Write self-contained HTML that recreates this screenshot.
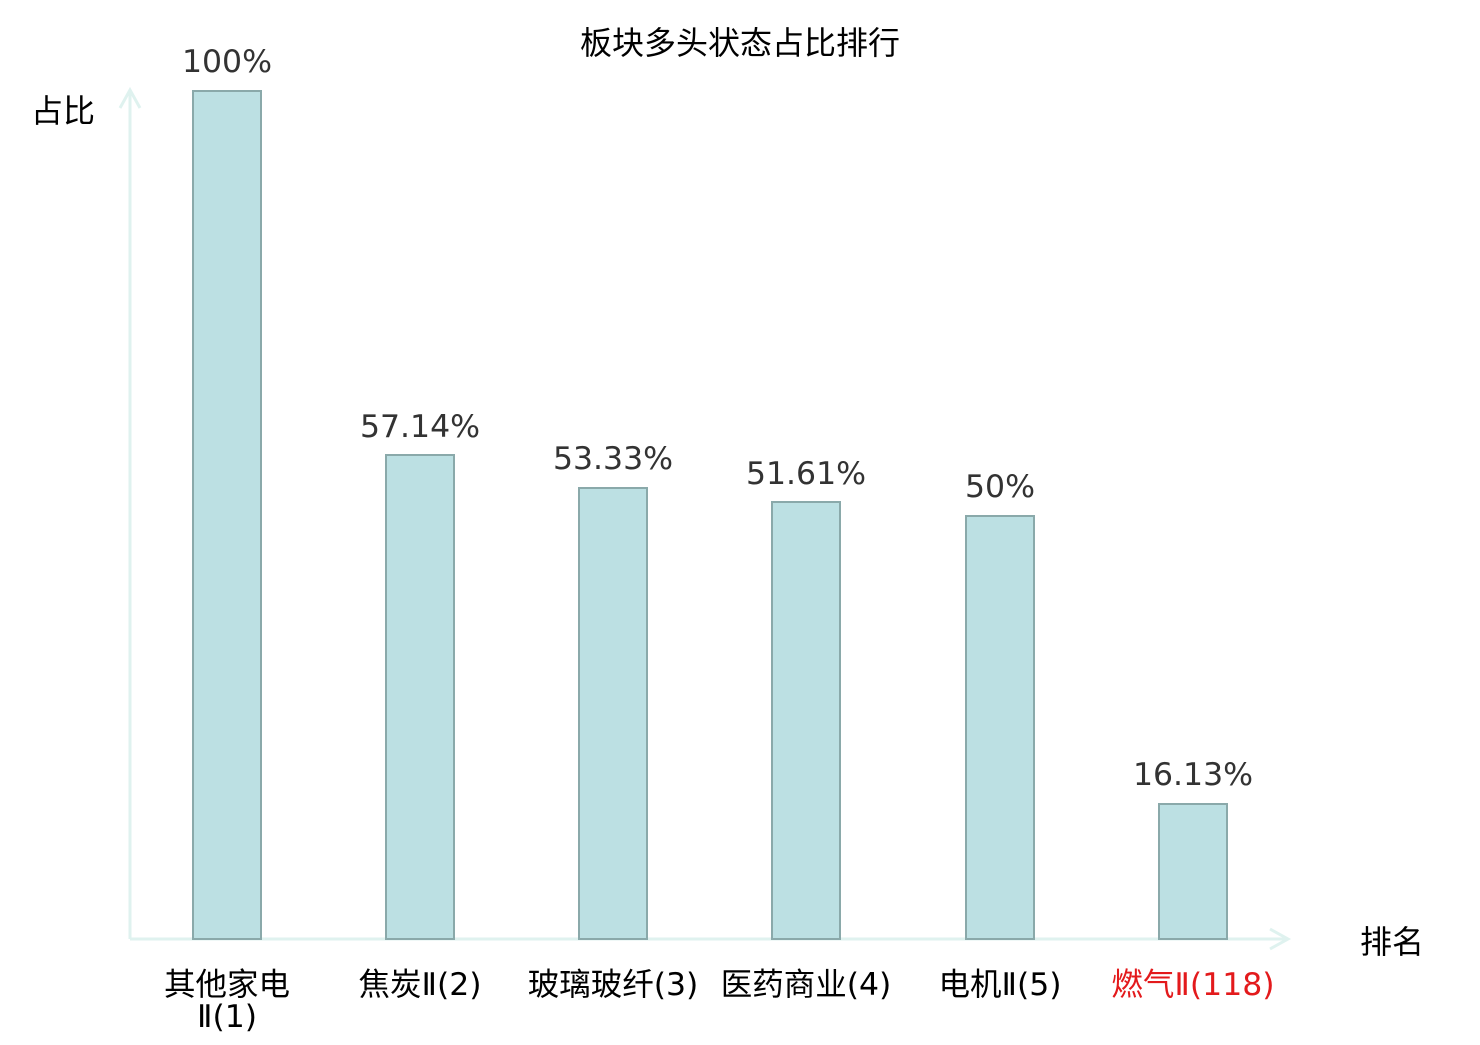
<!DOCTYPE html><html><head><meta charset="utf-8"><style>body{margin:0;background:#fff}svg text{font-family:"DejaVu Sans","Liberation Sans","Noto Sans CJK SC",sans-serif}</style></head><body>
<svg width="1480" height="1040" xmlns="http://www.w3.org/2000/svg">
<text x="740" y="54" font-size="32" text-anchor="middle" fill="#000">板块多头状态占比排行</text>
<text x="63" y="122" font-size="32" text-anchor="middle" fill="#000">占比</text>
<text x="1392" y="953" font-size="32" text-anchor="middle" fill="#000">排名</text>
<g stroke="#dff2ef" stroke-width="3" fill="none">
<line x1="130" y1="939" x2="130" y2="90"/><polyline points="120,108 130,90 140,108"/>
<line x1="130" y1="939" x2="1288" y2="939"/><polyline points="1270,929 1288,939 1270,949"/>
</g>
<g fill="#bce0e3" stroke="#8aa9aa" stroke-width="2">
<rect x="193" y="91" width="68" height="848"/>
<rect x="386" y="455" width="68" height="484"/>
<rect x="579" y="488" width="68" height="451"/>
<rect x="772" y="502" width="68" height="437"/>
<rect x="966" y="516" width="68" height="423"/>
<rect x="1159" y="804" width="68" height="135"/>
</g>
<g font-size="31.5" text-anchor="middle" fill="#333">
<text x="227" y="72">100%</text>
<text x="420" y="437">57.14%</text>
<text x="613" y="469">53.33%</text>
<text x="806" y="484">51.61%</text>
<text x="1000" y="497">50%</text>
<text x="1193" y="785">16.13%</text>
</g>
<g font-size="31.5" text-anchor="middle" fill="#000">
<text x="227" y="995">其他家电</text><text x="227" y="1027">Ⅱ(1)</text>
<text x="420" y="995">焦炭Ⅱ(2)</text>
<text x="613" y="995">玻璃玻纤(3)</text>
<text x="806" y="995">医药商业(4)</text>
<text x="1000" y="995">电机Ⅱ(5)</text>
<text x="1193" y="995" fill="#e31a1c">燃气Ⅱ(118)</text>
</g>
</svg></body></html>
